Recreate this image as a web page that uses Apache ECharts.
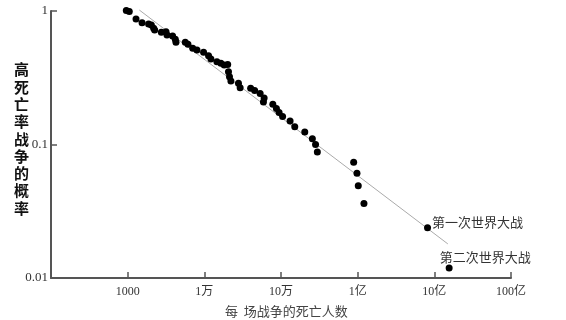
<!DOCTYPE html>
<html>
<head>
<meta charset="utf-8">
<script src="https://cdn.jsdelivr.net/npm/echarts@6/dist/echarts.min.js"></script>
<style>
  html, body { margin: 0; padding: 0; background: #fff; }
  #chart { width: 566px; height: 320px; }
</style>
</head>
<body>
<div id="chart"></div>
<script>
// 每场战争死亡人数 (按图中刻度位置) 与概率
var deaths = [960, 1050, 1285, 1540, 1875, 2035, 2183, 2249, 2749, 3163, 3258, 3855, 4180, 4266,
    5640, 6113, 7058, 8012, 9772, 11350, 12190, 14590, 16440, 18150, 20170, 20650, 21290, 22200,
    27870, 29310, 40180, 45290, 53430, 60230, 59000, 78200, 87100, 94400, 104900, 131300, 151200,
    204200, 256500, 282300, 297900, 887000, 979000, 1018000, 1208000];
var probs = [1.01, 0.99, 0.871, 0.817, 0.799, 0.785, 0.742, 0.721, 0.692, 0.700, 0.661, 0.650, 0.614, 0.583,
    0.583, 0.563, 0.526, 0.510, 0.491, 0.463, 0.437, 0.417, 0.406, 0.394, 0.397, 0.351, 0.322, 0.299,
    0.287, 0.266, 0.264, 0.254, 0.241, 0.223, 0.208, 0.200, 0.186, 0.174, 0.162, 0.150, 0.136,
    0.124, 0.1105, 0.100, 0.0879, 0.0736, 0.0609, 0.0491, 0.0361];

var wars = ['第一次世界大战', '第二次世界大战'];
var warDeaths = [8150000, 15600000];
var warProbs = [0.0238, 0.0119];

// 拟合直线的两个端点
var fitX = [1419, 15000000];
var fitY = [1.017, 0.018];

var xLabels = ['', '1000', '1万', '10万', '1亿', '10亿', '100亿'];
var yLabels = ['0.01', '0.1', '1'];

var chart = echarts.init(document.getElementById('chart'));

var tickFont = 'Liberation Serif, Noto Sans CJK SC';

var option = {
    animation: false,
    grid: { left: 51, right: 55, top: 11, bottom: 42 },
    xAxis: {
        type: 'log',
        logBase: 10,
        min: 100,
        max: 100000000,
        splitLine: { show: false },
        axisLine: { lineStyle: { color: '#555', width: 2 } },
        axisTick: { inside: true, length: 6, lineStyle: { color: '#555', width: 1.5 } },
        axisLabel: {
            color: '#333',
            fontSize: 12,
            fontFamily: tickFont,
            margin: 8,
            formatter: function (v) {
                return xLabels[Math.round(Math.log10(v)) - 2] || '';
            }
        }
    },
    yAxis: {
        type: 'log',
        logBase: 10,
        min: 0.01,
        max: 1,
        splitLine: { show: false },
        axisLine: { show: true, lineStyle: { color: '#555', width: 2 } },
        axisTick: { show: true, inside: true, length: 6, lineStyle: { color: '#555', width: 1.5 } },
        axisLabel: {
            color: '#333',
            fontSize: 13,
            fontFamily: tickFont,
            margin: 3,
            formatter: function (v) {
                return yLabels[Math.round(Math.log10(v)) + 2] || '';
            }
        }
    },
    graphic: [
        {
            type: 'text',
            left: 14,
            top: 61,
            style: {
                text: '高\n死\n亡\n率\n战\n争\n的\n概\n率',
                fontSize: 15,
                lineHeight: 17.3,
                fill: '#111',
                fontWeight: 'bold',
                fontFamily: 'Noto Sans CJK SC'
            }
        },
        {
            type: 'text',
            left: 225,
            top: 305,
            style: {
                text: '每  场战争的死亡人数',
                fontSize: 13,
                fill: '#444',
                fontFamily: 'Noto Sans CJK SC'
            }
        }
    ],
    series: [
        {
            type: 'line',
            data: fitX.map(function (x, i) { return [x, fitY[i]]; }),
            symbol: 'none',
            clip: false,
            lineStyle: { color: '#aaa', width: 1 },
            z: 1
        },
        {
            type: 'scatter',
            data: deaths.map(function (x, i) { return [x, probs[i]]; }),
            symbolSize: 7,
            clip: false,
            itemStyle: { color: '#000', opacity: 1 },
            z: 2
        },
        {
            type: 'scatter',
            data: wars.map(function (name, i) {
                return {
                    name: name,
                    value: [warDeaths[i], warProbs[i]],
                    label: i === 0
                        ? { position: 'right', distance: 1, offset: [0, -6] }
                        : { position: 'right', distance: 1, offset: [-14, -11] }
                };
            }),
            symbolSize: 7,
            clip: false,
            itemStyle: { color: '#000', opacity: 1 },
            label: {
                show: true,
                formatter: '{b}',
                color: '#333',
                fontSize: 13,
                fontFamily: 'Noto Sans CJK SC'
            },
            z: 2
        }
    ]
};

chart.setOption(option);
</script>
</body>
</html>
